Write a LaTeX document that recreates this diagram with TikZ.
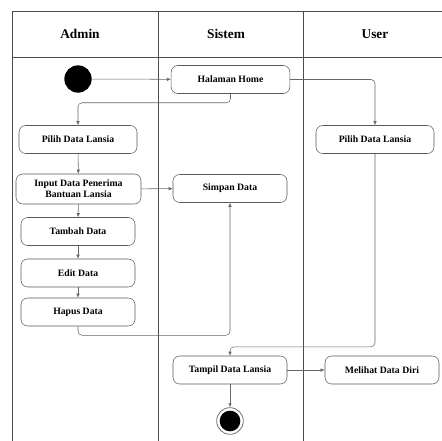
\documentclass[tikz,border=0pt]{standalone}
\usepackage{fontspec}
\setmainfont{Liberation Serif}
\usetikzlibrary{arrows.meta}

\tikzset{
  act/.style={draw=black!65, rounded corners=5pt, fill=white, minimum width=85.5pt, minimum height=21pt, inner sep=1pt, align=center, font=\fontsize{7.3}{8}\selectfont\bfseries},
  flow/.style={draw=black!60, rounded corners=3pt, -{Latex[length=3pt,width=2.6pt]}},
  lane/.style={draw=black!70, line width=0.6pt},
  head/.style={font=\fontsize{10}{12}\selectfont\bfseries}
}

\begin{document}
\begin{tikzpicture}[x=0.75pt,y=0.75pt,yscale=-1,xscale=1]
\useasboundingbox (0,0) rectangle (442,441);

%Swimlane frame
\draw[lane] (12,441) -- (12,11) -- (445,11) ;
\draw[lane] (12,57) -- (445,57) ;
\draw[lane] (158,11) -- (158,441) ;
\draw[lane] (303,11) -- (303,441) ;
%Lane titles
\node[head] (tAdmin) at (80,34) {Admin};
\node[head] (tSistem) at (226,34) {Sistem};
\node[head] (tUser) at (375,34) {User};

%Start
\node[circle, fill=black, minimum size=20.5pt, inner sep=0pt] (start) at (78,79) {};
%End
\node[circle, draw=black!55, line width=0.6pt, minimum size=20pt, inner sep=0pt] (stop) at (230,421) {};
\node[circle, fill=black, minimum size=15.5pt, inner sep=0pt] at (stop) {};

%Activities
\node[act, minimum width=89pt] (home) at (230.5,79.5) {Halaman Home};
\node[act, minimum width=88.5pt] (pilihA) at (78,139.5) {Pilih Data Lansia};
\node[act, minimum width=88.5pt] (pilihU) at (375,139.5) {Pilih Data Lansia};
\node[act, minimum width=93.75pt, minimum height=22.5pt] (input) at (78.5,189) {Input Data Penerima\\Bantuan Lansia};
\node[act] (simpan) at (230,188.5) {Simpan Data};
\node[act] (tambah) at (78,231.5) {Tambah Data};
\node[act] (edit) at (78,273) {Edit Data};
\node[act] (hapus) at (78,312) {Hapus Data};
\node[act] (tampil) at (230,370) {Tampil Data Lansia};
\node[act] (lihat) at (382,370) {Melihat Data Diri};

%Connectors
\draw[flow] (start) -- (home) ;
\draw[flow] (home.south) -- ++(0,9) -| (pilihA.north) ;
\draw[flow] (home.east) -| (pilihU.north) ;
\draw[flow] (pilihA) -- (input) ;
\draw[flow] (input) -- (simpan) ;
\draw[flow] (input) -- (tambah) ;
\draw[flow] (tambah) -- (edit) ;
\draw[flow] (edit) -- (hapus) ;
\draw[flow] (hapus.south) -- ++(0,9) -| (simpan.south) ;
\draw[flow] (pilihU.south) -- ++(0,193) -| (tampil.north) ;
\draw[flow] (tampil) -- (lihat) ;
\draw[flow] (tampil) -- (stop) ;

\end{tikzpicture}
\end{document}
